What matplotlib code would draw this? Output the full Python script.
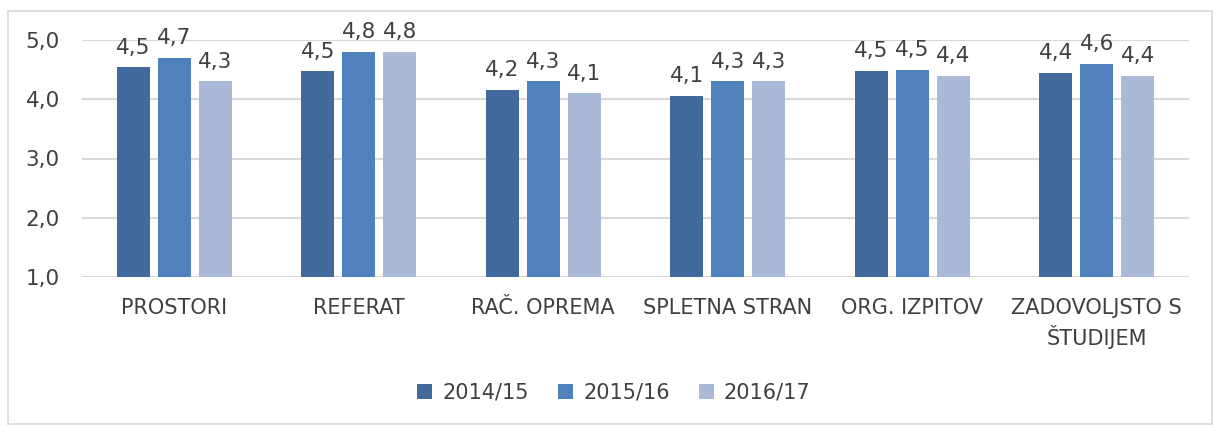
import matplotlib.pyplot as plt
from matplotlib.patches import Rectangle
import numpy as np

categories = ["PROSTORI", "REFERAT", "RAČ. OPREMA", "SPLETNA STRAN", "ORG. IZPITOV", "ZADOVOLJSTO S\nŠTUDIJEM"]
years = ["2014/15", "2015/16", "2016/17"]
v_2014 = [4.54, 4.47, 4.16, 4.06, 4.48, 4.44]
v_2015 = [4.70, 4.80, 4.30, 4.30, 4.50, 4.60]
v_2016 = [4.30, 4.80, 4.10, 4.30, 4.40, 4.40]
yticks = [1.0, 2.0, 3.0, 4.0, 5.0]

colors = ["#41699B", "#4F81BD", "#AAB9D7"]
txt = "#404040"

plt.rcParams['font.family'] = ['DejaVu Sans']

W, H = 1214, 425
fig = plt.figure(figsize=(W / 100, H / 100), dpi=100)
fig.patches.append(Rectangle((8 / W, 1 / H), 1204 / W, 413 / H, transform=fig.transFigure,
                             fill=False, edgecolor="#D9D9D9", lw=1.2))

ax = fig.add_axes([82 / W, 1 - 277 / H, (1189 - 82) / W, (277 - 40) / H])

x = np.arange(len(categories))
step = 0.222
width = 0.18
for i, vals in enumerate([v_2014, v_2015, v_2016]):
    bars = ax.bar(x + (i - 1) * step, vals, width, bottom=0, color=colors[i], label=years[i], zorder=3)
    for b, v in zip(bars, vals):
        ax.annotate(f"{v:.1f}".replace(".", ","), (b.get_x() + b.get_width() / 2, v),
                    xytext=(0, 7), textcoords="offset points", ha="center", va="bottom",
                    fontsize=15.5, color=txt, annotation_clip=False)

ax.set_ylim(1, 5)
ax.set_xlim(-0.5, len(categories) - 0.5)
ax.set_yticks(yticks)
ax.set_yticklabels([f"{t:.1f}".replace(".", ",") for t in yticks], fontsize=15.5, color=txt)
ax.set_xticks(x)
ax.set_xticklabels(categories, fontsize=15, color=txt, linespacing=1.35, va="top")
ax.tick_params(length=0, axis="x", pad=15)
ax.tick_params(length=0, axis="y", pad=16)
ax.grid(axis="y", color="#D9D9D9", lw=1.5, zorder=0)
for s in ax.spines.values():
    s.set_visible(False)

fig.legend(loc="center", bbox_to_anchor=(614 / W, 1 - 393 / H), ncol=3, frameon=False,
           fontsize=15, handlelength=0.7, handleheight=0.7, columnspacing=1.4,
           handletextpad=0.5, labelcolor=txt)

fig.savefig("out.png", dpi=100)
